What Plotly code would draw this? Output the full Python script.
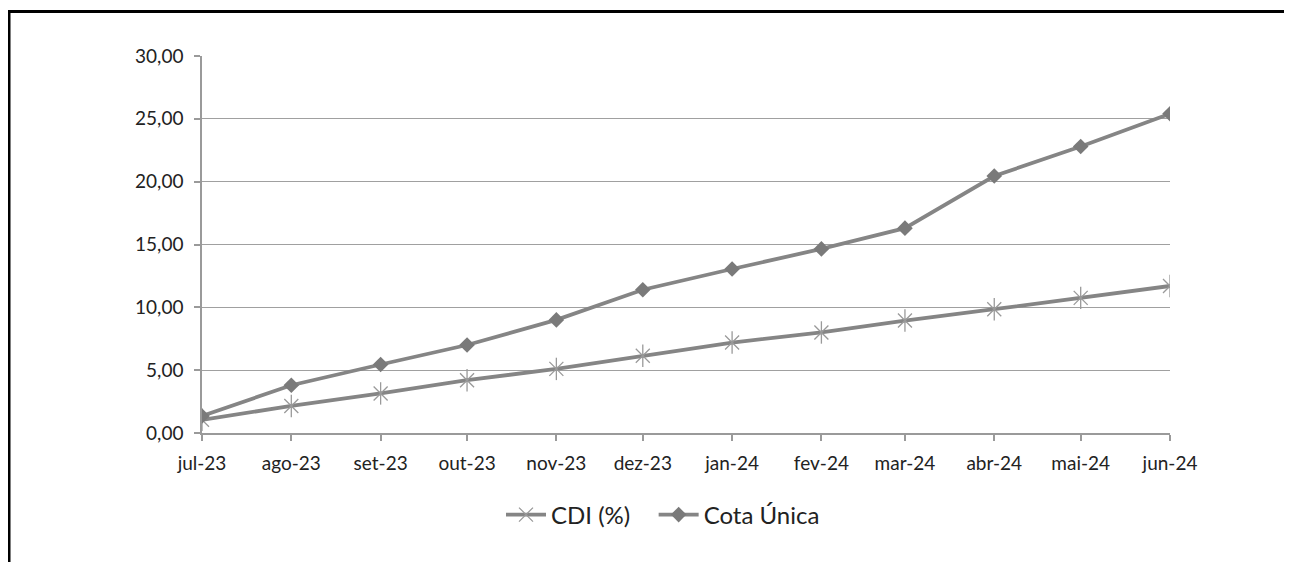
import plotly.graph_objects as go

dates = ["2023-07-01", "2023-08-01", "2023-09-01", "2023-10-01", "2023-11-01", "2023-12-01",
         "2024-01-01", "2024-02-01", "2024-03-01", "2024-04-01", "2024-05-01", "2024-06-01"]
tick_labels = ["jul-23", "ago-23", "set-23", "out-23", "nov-23", "dez-23",
               "jan-24", "fev-24", "mar-24", "abr-24", "mai-24", "jun-24"]
cdi = [1.05, 2.15, 3.15, 4.2, 5.1, 6.15, 7.2, 8.0, 8.95, 9.85, 10.75, 11.7]
cota_unica = [1.35, 3.8, 5.45, 7.0, 9.0, 11.4, 13.05, 14.65, 16.3, 20.45, 22.8, 25.4]

LINE = "#858585"
MARK = "#9a9a9a"
FONT = "Lato"

fig = go.Figure()
fig.add_trace(go.Scatter(
    x=dates, y=cdi, name="CDI (%)\u00a0\u00a0\u00a0", mode="lines+markers",
    line=dict(color=LINE, width=3.8),
    marker=dict(symbol="x-thin-open", size=14, color=MARK, line=dict(color=MARK, width=1.3)),
))
fig.add_trace(go.Scatter(
    x=dates, y=cdi, mode="markers", showlegend=False, hoverinfo="skip",
    marker=dict(symbol="line-ns-open", size=16, color=MARK, line=dict(color=MARK, width=1.3)),
))
fig.add_trace(go.Scatter(
    x=dates, y=cota_unica, name="Cota Única", mode="lines+markers",
    line=dict(color=LINE, width=3.8),
    marker=dict(symbol="diamond", size=12, color="#7a7a7a"),
))

OFF = 8  # page body margin
W, H = 1292 - OFF, 562 - OFF
L, R, T, B = 202 - OFF, 1170 - OFF, 56 - OFF, 433 - OFF
pw, ph = R - L, B - T

def px(x):
    return (x - OFF - L) / pw

def py(y):
    return (B - (y - OFF)) / ph

fig.update_layout(
    width=W, height=H,
    margin=dict(l=L, r=W - R, t=T, b=H - B),
    paper_bgcolor="white", plot_bgcolor="white",
    separators=",.",
    font=dict(family=FONT, size=19, color="#222222"),
    showlegend=True,
    legend=dict(orientation="h", x=px(663), xanchor="center", y=py(515), yanchor="middle",
                font=dict(family=FONT, size=24, color="#222222"),
                itemwidth=40, traceorder="normal"),
    xaxis=dict(
        type="date", range=["2023-07-01", "2024-06-01"],
        tickvals=dates, ticktext=tick_labels,
        showgrid=False, showline=True, linecolor="#9a9a9a", linewidth=1.5,
        ticks="outside", ticklen=6, tickcolor="#9a9a9a", tickwidth=1.5,
        ticklabelstandoff=6, zeroline=False,
        tickfont=dict(family=FONT, size=19, color="#222222"),
    ),
    yaxis=dict(
        range=[0, 30], dtick=5, tick0=0, tickformat=".2f",
        showgrid=True, gridcolor="#a0a0a0", gridwidth=1.2,
        showline=True, linecolor="#9a9a9a", linewidth=1.5,
        ticks="outside", ticklen=6, tickcolor="#9a9a9a", tickwidth=1.5,
        ticklabelstandoff=7, zeroline=False,
        tickfont=dict(family=FONT, size=19, color="#222222"),
    ),
    shapes=[
        dict(type="line", xref="paper", yref="paper", x0=px(9), x1=px(1300), y0=py(11.5), y1=py(11.5),
             line=dict(color="black", width=3)),
        dict(type="line", xref="paper", yref="paper", x0=px(9), x1=px(9), y0=py(10), y1=py(570),
             line=dict(color="black", width=3)),
    ],
)

fig.write_html("out.html")
